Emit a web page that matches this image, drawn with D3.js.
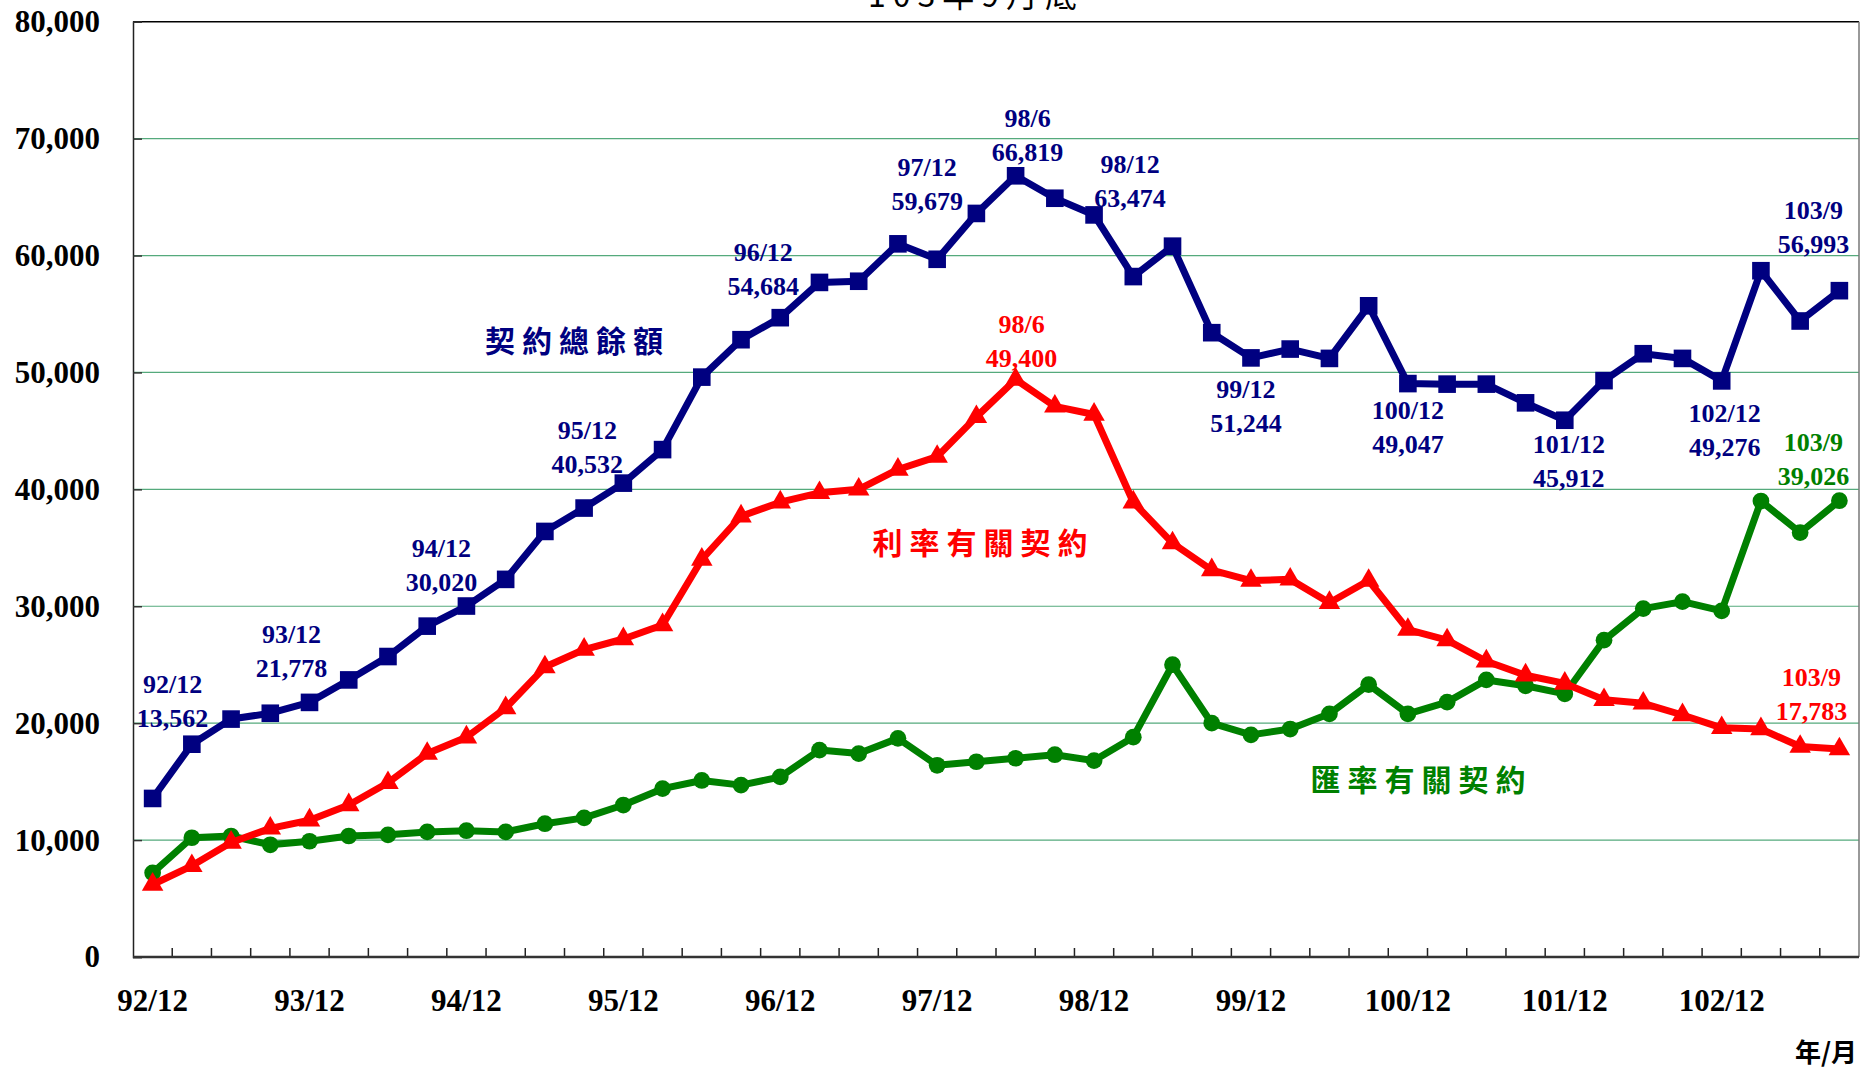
<!DOCTYPE html>
<html>
<head>
<meta charset="utf-8">
<script src="https://cdn.jsdelivr.net/npm/d3@7/dist/d3.min.js"></script>
<style>
  body { margin: 0; background: #fff; }
  svg { display: block; }
  .num { font-family: "Liberation Serif", "Times New Roman", serif; font-weight: bold; }
  .cjk { font-family: "Noto Sans CJK TC", "Noto Sans CJK SC", sans-serif; }
</style>
</head>
<body>
<div class="graphic"></div>
<script>
// quarters 92/12 .. 103/9
var periods = ["92/12",
  "93/3", "93/6", "93/9", "93/12",
  "94/3", "94/6", "94/9", "94/12",
  "95/3", "95/6", "95/9", "95/12",
  "96/3", "96/6", "96/9", "96/12",
  "97/3", "97/6", "97/9", "97/12",
  "98/3", "98/6", "98/9", "98/12",
  "99/3", "99/6", "99/9", "99/12",
  "100/3", "100/6", "100/9", "100/12",
  "101/3", "101/6", "101/9", "101/12",
  "102/3", "102/6", "102/9", "102/12",
  "103/3", "103/6", "103/9"];

// 契約總餘額
var totalValues = [13562,
  18200, 20350, 20850, 21778,
  23700, 25700, 28300, 30020,
  32300, 36400, 38400, 40532,
  43400, 49600, 52800, 54684,
  57700, 57800, 61000, 59679,
  63600, 66819, 64900, 63474,
  58200, 60800, 53400, 51244,
  52000, 51200, 55700, 49047,
  49000, 49000, 47400, 45912,
  49300, 51600, 51200, 49276,
  58700, 54400, 56993];

// 利率有關契約
var rateValues = [6200,
  7800, 9800, 11000, 11700,
  13000, 14900, 17400, 18800,
  21300, 24800, 26300, 27200,
  28400, 34000, 37700, 38900,
  39700, 40000, 41700, 42800,
  46200, 49400, 47100, 46400,
  38900, 35400, 33100, 32200,
  32300, 30300, 32200, 28000,
  27100, 25300, 24100, 23400,
  22000, 21700, 20700, 19600,
  19500, 18000, 17783];

// 匯率有關契約
var fxValues = [7200,
  10200, 10350, 9600, 9900,
  10350, 10450, 10700, 10800,
  10700, 11400, 11900, 13000,
  14400, 15100, 14700, 15400,
  17700, 17400, 18700, 16400,
  16700, 17000, 17300, 16800,
  18800, 25000, 20000, 19000,
  19500, 20800, 23300, 20800,
  21800, 23700, 23200, 22500,
  27100, 29800, 30400, 29600,
  39000, 36300, 39026];

var yTicks = [0, 10000, 20000, 30000, 40000, 50000, 60000, 70000, 80000];
var xLabels = ["92/12", "93/12", "94/12", "95/12", "96/12", "97/12", "98/12", "99/12", "100/12", "101/12", "102/12"];

var colors = { total: "#000080", rate: "#ff0000", fx: "#008000", grid: "#55aa7c" };

var width = 1863, height = 1069;
var plot = { left: 133, right: 1859, top: 21.7, bottom: 957 };

var svg = d3.select(".graphic").append("svg")
  .attr("width", width)
  .attr("height", height);

svg.append("rect").attr("width", width).attr("height", height).attr("fill", "#fff");

var x = d3.scaleBand().domain(periods).range([plot.left, plot.right]).padding(0);
var y = d3.scaleLinear().domain([0, 80000]).range([plot.bottom, plot.top]);
var cx = function (i) { return x(periods[i]) + x.bandwidth() / 2; };

// title (mostly cut off at the top)
svg.append("text")
  .attr("class", "cjk")
  .attr("x", 976).attr("y", 7)
  .attr("text-anchor", "middle")
  .attr("font-size", 32)
  .attr("letter-spacing", 7)
  .attr("fill", "#000")
  .text("103年9月底");

// grid
svg.append("g")
  .selectAll("line")
  .data(yTicks.filter(function (d) { return d > 0 && d < 80000; }))
  .join("line")
  .attr("x1", plot.left).attr("x2", plot.right)
  .attr("y1", function (d) { return y(d); })
  .attr("y2", function (d) { return y(d); })
  .attr("stroke", colors.grid)
  .attr("stroke-width", 1.2);

// frame top / right
svg.append("line")
  .attr("x1", plot.left).attr("x2", plot.right)
  .attr("y1", plot.top).attr("y2", plot.top)
  .attr("stroke", "#000").attr("stroke-width", 1.5);
svg.append("line")
  .attr("x1", plot.right).attr("x2", plot.right)
  .attr("y1", plot.top).attr("y2", plot.bottom)
  .attr("stroke", "#777").attr("stroke-width", 1.5);

// y axis
var yAxis = svg.append("g")
  .attr("transform", "translate(" + plot.left + ",0)")
  .call(d3.axisLeft(y).tickValues(yTicks).tickSize(-9).tickPadding(33).tickFormat(d3.format(",")));
yAxis.select(".domain").attr("stroke", "#222").attr("stroke-width", 1.5);
yAxis.selectAll(".tick line").attr("stroke", "#333").attr("stroke-width", 1.5);
yAxis.selectAll("text").attr("class", "num").attr("font-size", 31).attr("fill", "#000");

// x axis: labels every 4th quarter, ticks between categories
var xAxis = svg.append("g")
  .attr("transform", "translate(0," + plot.bottom + ")")
  .call(d3.axisBottom(x).tickValues(xLabels).tickSize(0).tickPadding(32));
xAxis.select(".domain").remove();
xAxis.selectAll("text").attr("class", "num").attr("font-size", 31).attr("fill", "#000");

svg.append("g")
  .selectAll("line")
  .data(periods.slice(1))
  .join("line")
  .attr("x1", function (d) { return x(d); })
  .attr("x2", function (d) { return x(d); })
  .attr("y1", plot.bottom).attr("y2", plot.bottom - 9)
  .attr("stroke", "#222").attr("stroke-width", 1.5);

svg.append("line")
  .attr("x1", plot.left).attr("x2", plot.right)
  .attr("y1", plot.bottom).attr("y2", plot.bottom)
  .attr("stroke", "#333").attr("stroke-width", 2.5);

// lines
var line = d3.line()
  .x(function (d, i) { return cx(i); })
  .y(function (d) { return y(d); });

function drawSeries(values, color, shape) {
  var g = svg.append("g");
  g.append("path")
    .datum(values)
    .attr("d", line)
    .attr("fill", "none")
    .attr("stroke", color)
    .attr("stroke-width", 7)
    .attr("stroke-linejoin", "round");
  g.selectAll("path.marker")
    .data(values)
    .join("path")
    .attr("class", "marker")
    .attr("transform", function (d, i) { return "translate(" + cx(i) + "," + y(d) + ")"; })
    .attr("d", d3.symbol().type(shape.type).size(shape.size))
    .attr("fill", color);
}

drawSeries(fxValues, colors.fx, { type: d3.symbolCircle, size: 220 });
drawSeries(rateValues, colors.rate, { type: d3.symbolTriangle, size: 200 });
drawSeries(totalValues, colors.total, { type: d3.symbolSquare, size: 310 });

// data labels: series, index, offset of label centre from point (line 2)
var notes = [
  { s: "total", i: 0, dx: 20, dy: -80 },
  { s: "total", i: 4, dx: -18, dy: -34 },
  { s: "total", i: 8, dx: -25, dy: -24 },
  { s: "total", i: 12, dx: -36, dy: -19 },
  { s: "total", i: 16, dx: -17, dy: -32 },
  { s: "total", i: 20, dx: -10, dy: -58 },
  { s: "total", i: 22, dx: 12, dy: -24 },
  { s: "total", i: 24, dx: 36, dy: -17 },
  { s: "total", i: 28, dx: -5, dy: 65 },
  { s: "total", i: 32, dx: 0, dy: 60 },
  { s: "total", i: 36, dx: 4, dy: 58 },
  { s: "total", i: 40, dx: 3, dy: 66 },
  { s: "total", i: 43, dx: -26, dy: -47 },
  { s: "rate", i: 22, dx: 6, dy: -21 },
  { s: "rate", i: 43, dx: -28, dy: -38 },
  { s: "fx", i: 43, dx: -26, dy: -25 }
];
var seriesValues = { total: totalValues, rate: rateValues, fx: fxValues };

var noteG = svg.append("g").attr("class", "num").attr("font-size", 26).attr("text-anchor", "middle");
notes.forEach(function (n) {
  var v = seriesValues[n.s][n.i];
  var px = cx(n.i) + n.dx, py = y(v) + n.dy;
  var t = noteG.append("text").attr("fill", colors[n.s]).attr("dominant-baseline", "central");
  t.append("tspan").attr("x", px).attr("y", py - 34).text(periods[n.i]);
  t.append("tspan").attr("x", px).attr("y", py).text(d3.format(",")(v));
});

// series names
var names = [
  { text: "契約總餘額", color: colors.total, x: 574, y: 339 },
  { text: "利率有關契約", color: colors.rate, x: 980, y: 541 },
  { text: "匯率有關契約", color: colors.fx, x: 1418, y: 778 }
];
svg.append("g").selectAll("text")
  .data(names)
  .join("text")
  .attr("class", "cjk")
  .attr("x", function (d) { return d.x + 3.5; })
  .attr("y", function (d) { return d.y; })
  .attr("text-anchor", "middle")
  .attr("dominant-baseline", "central")
  .attr("font-size", 30)
  .attr("font-weight", 700)
  .attr("letter-spacing", 7)
  .attr("fill", function (d) { return d.color; })
  .text(function (d) { return d.text; });

svg.append("text")
  .attr("class", "cjk")
  .attr("x", 1857).attr("y", 1062)
  .attr("text-anchor", "end")
  .attr("font-size", 26)
  .attr("font-weight", 700)
  .attr("fill", "#000")
  .text("年/月");
</script>
</body>
</html>
